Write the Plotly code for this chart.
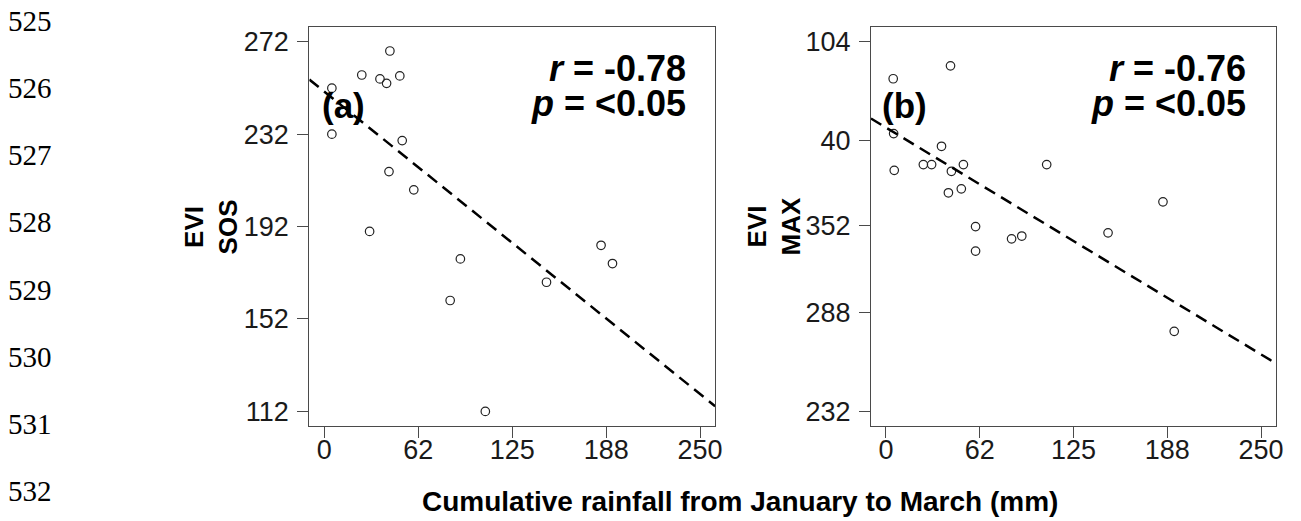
import plotly.graph_objects as go

# ---------------- data ----------------
rain_a = [43.6, 24.9, 37.0, 41.4, 50.2, 5.0, 5.0, 51.8, 43.0, 59.5, 30.1,
          184.1, 90.5, 191.7, 147.8, 83.7, 107.1]
evi_sos = [268.0, 257.6, 255.9, 254.0, 257.2, 251.9, 232.0, 229.2, 215.8,
           207.9, 189.9, 183.9, 178.0, 176.0, 167.9, 160.0, 112.0]

rain_b = [4.8, 43.0, 5.1, 37.0, 24.9, 30.4, 51.6, 43.6, 5.5, 107.1, 50.2,
          41.6, 184.6, 59.7, 148.0, 83.7, 90.5, 59.7, 192.1]
# EVI MAX on the panel's own (linear) plotting scale
evi_max = [375.9, 381.5, 352.2, 346.7, 338.8, 338.8, 338.8, 335.9, 336.3,
           338.8, 328.3, 326.6, 322.7, 312.0, 309.3, 306.7, 307.9, 301.4, 266.7]

fit_a = {"intercept": 250.4, "slope": -0.5236}
fit_b = {"intercept": 354.8, "slope": -0.3924}

stats_a = ["-0.78", "<0.05"]
stats_b = ["-0.76", "<0.05"]

x_tickvals = [0, 62.5, 125, 187.5, 250]
x_ticktext = ["0", "62", "125", "188", "250"]
ya_tickvals = [112, 152, 192, 232, 272]
ya_ticktext = ["112", "152", "192", "232", "272"]
yb_tickvals = [232, 274.7, 312.3, 349.4, 392.0]
yb_ticktext = ["232", "288", "352", "40", "104"]

line_numbers = ["525", "526", "527", "528", "529", "530", "531", "532"]

# ---------------- layout helpers ----------------
W, H = 1301, 521
def px(x):
    return x / W
def py(y):
    return 1 - y / H

XRANGE = [-10, 260]
SANS = "Liberation Sans, Arial, sans-serif"
SERIF = "Liberation Serif, Times New Roman, serif"
AXCOL = "#4a4a4a"

fig = go.Figure()

marker = dict(symbol="circle-open", size=8.5, color="#222222", line=dict(width=1.2, color="#222222"))
dash_line = dict(color="black", width=2.5, dash="12px,7px")

# panel a
fig.add_trace(go.Scatter(x=rain_a, y=evi_sos, mode="markers", marker=marker,
                         xaxis="x", yaxis="y", showlegend=False, cliponaxis=False))
fig.add_trace(go.Scatter(x=XRANGE,
                         y=[fit_a["intercept"] + fit_a["slope"] * v for v in XRANGE],
                         mode="lines", line=dash_line, xaxis="x", yaxis="y",
                         showlegend=False))
# panel b
fig.add_trace(go.Scatter(x=rain_b, y=evi_max, mode="markers", marker=marker,
                         xaxis="x2", yaxis="y2", showlegend=False, cliponaxis=False))
fig.add_trace(go.Scatter(x=XRANGE,
                         y=[fit_b["intercept"] + fit_b["slope"] * v for v in XRANGE],
                         mode="lines", line=dash_line, xaxis="x2", yaxis="y2",
                         showlegend=False))

tickfont = dict(family=SANS, size=27, color="#1a1a1a")
common_axis = dict(showgrid=False, zeroline=False, showline=True, mirror=True,
                   linecolor=AXCOL, linewidth=1.2, ticks="outside", ticklen=11,
                   tickcolor=AXCOL, tickwidth=1.2, tickfont=tickfont, fixedrange=True)

ydom = [py(427), py(27)]
fig.update_layout(
    width=W, height=H,
    margin=dict(l=0, r=0, t=0, b=0),
    paper_bgcolor="white", plot_bgcolor="white",
    xaxis=dict(domain=[px(311), px(719)], range=XRANGE, anchor="y",
               tickvals=x_tickvals, ticktext=x_ticktext, ticklabelstandoff=-12,
               **common_axis),
    yaxis=dict(domain=ydom, range=[105.6, 278.4], anchor="x",
               tickvals=ya_tickvals, ticktext=ya_ticktext, ticklabelstandoff=3,
               **common_axis),
    xaxis2=dict(domain=[px(875.7), px(1283)], range=XRANGE, anchor="y2",
                tickvals=x_tickvals, ticktext=x_ticktext, ticklabelstandoff=-12,
                **common_axis),
    yaxis2=dict(domain=ydom, range=[225.7, 398.3], anchor="x2",
                tickvals=yb_tickvals, ticktext=yb_ticktext, ticklabelstandoff=3,
                **common_axis),
)

ann = []
# line numbers
for i, t in enumerate(line_numbers):
    ann.append(dict(text=t, x=px(30), y=py(21 + i * 67.3), xref="paper", yref="paper",
                    xanchor="center", yanchor="middle", showarrow=False,
                    font=dict(family=SERIF, size=29, color="black")))
# y-axis titles
for label, xc in [("EVI<br>SOS", 212), ("EVI<br>MAX", 778)]:
    ann.append(dict(text="<b>" + label + "</b>", x=px(xc), y=py(227), xref="paper", yref="paper",
                    xanchor="center", yanchor="middle", textangle=-90, showarrow=False,
                    font=dict(family=SANS, size=26, color="black")))
# panel letters
for letter, xl in [("(a)", 322), ("(b)", 885)]:
    ann.append(dict(text="<b>" + letter + "</b>", x=px(xl), y=py(106), xref="paper", yref="paper",
                    xanchor="left", yanchor="middle", showarrow=False,
                    font=dict(family=SANS, size=35, color="black")))
# statistics
for stats, xr in [(stats_a, 692), (stats_b, 1255)]:
    ann.append(dict(text="<b><i>r</i> = " + stats[0] + "</b>", x=px(xr), y=py(69),
                    xref="paper", yref="paper", xanchor="right", yanchor="middle",
                    showarrow=False, font=dict(family=SANS, size=36, color="black")))
    ann.append(dict(text="<b><i>p</i> = " + stats[1] + "</b>", x=px(xr), y=py(104),
                    xref="paper", yref="paper", xanchor="right", yanchor="middle",
                    showarrow=False, font=dict(family=SANS, size=36, color="black")))
# x title
ann.append(dict(text="<b>Cumulative rainfall from January to March (mm)</b>",
                x=px(422), y=py(502), xref="paper", yref="paper",
                xanchor="left", yanchor="middle", showarrow=False,
                font=dict(family=SANS, size=28, color="black")))

fig.update_layout(annotations=ann)
fig.write_html("out.html")
